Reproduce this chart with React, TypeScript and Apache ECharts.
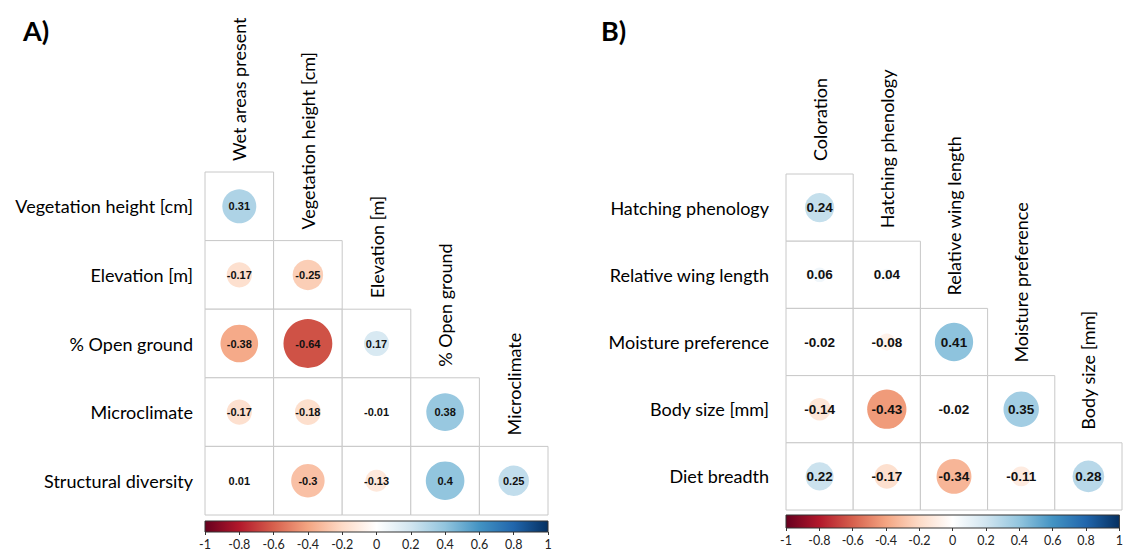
import React, { useEffect, useRef } from "react";
import * as echarts from "echarts";

const colsA = ["Wet areas present", "Vegetation height [cm]", "Elevation [m]", "% Open ground", "Microclimate"];
const rowsA = ["Vegetation height [cm]", "Elevation [m]", "% Open ground", "Microclimate", "Structural diversity"];
const valsA = [
  [0.31],
  [-0.17, -0.25],
  [-0.38, -0.64, 0.17],
  [-0.17, -0.18, -0.01, 0.38],
  [0.01, -0.3, -0.13, 0.4, 0.25],
];

const colsB = ["Coloration", "Hatching phenology", "Relative wing length", "Moisture preference", "Body size [mm]"];
const rowsB = ["Hatching phenology", "Relative wing length", "Moisture preference", "Body size [mm]", "Diet breadth"];
const valsB = [
  [0.24],
  [0.06, 0.04],
  [-0.02, -0.08, 0.41],
  [-0.14, -0.43, -0.02, 0.35],
  [0.22, -0.17, -0.34, -0.11, 0.28],
];

const palette = ["#67001F", "#B2182B", "#D6604D", "#F4A582", "#FDDBC7", "#FFFFFF", "#D1E5F0", "#92C5DE", "#4393C3", "#2166AC", "#053061"];

function hexToRgb(h: string) {
  return [parseInt(h.slice(1, 3), 16), parseInt(h.slice(3, 5), 16), parseInt(h.slice(5, 7), 16)];
}
function colorFor(v: number) {
  const t = ((v + 1) / 2) * (palette.length - 1);
  const i = Math.min(Math.floor(t), palette.length - 2);
  const f = t - i;
  const a = hexToRgb(palette[i]);
  const b = hexToRgb(palette[i + 1]);
  const c = a.map((x, k) => Math.round(x + (b[k] - x) * f));
  return `rgb(${c[0]},${c[1]},${c[2]})`;
}

const LABEL_FONT = "Lato";
const NUM_FONT = "Liberation Sans";
const LABEL_SIZE = 18;

function cellsOf(vals: number[][]) {
  const out: number[][] = [];
  vals.forEach((row, i) => row.forEach((v, j) => out.push([j, i, v])));
  return out;
}

function cellSeries(idx: number, vals: number[][], numSize: number) {
  return {
    type: "custom",
    xAxisIndex: idx,
    yAxisIndex: idx,
    data: cellsOf(vals),
    renderItem: (params: any, api: any) => {
      const p = api.coord([api.value(0), api.value(1)]);
      const s = api.size([1, 1]);
      const v = api.value(2);
      const r = 0.445 * Math.sqrt(Math.abs(v)) * s[0];
      return {
        type: "group",
        children: [
          {
            type: "rect",
            shape: { x: p[0] - s[0] / 2, y: p[1] - s[1] / 2, width: s[0], height: s[1] },
            style: { fill: "#fff", stroke: "#c8c8c8", lineWidth: 1 },
          },
          {
            type: "circle",
            shape: { cx: p[0], cy: p[1], r },
            style: { fill: colorFor(v) },
          },
          {
            type: "text",
            x: p[0],
            y: p[1],
            style: {
              text: String(v),
              fill: "#111",
              font: `bold ${numSize}px "${NUM_FONT}"`,
              align: "center",
              verticalAlign: "middle",
            },
          },
        ],
      };
    },
  };
}

function colLabelSeries(idx: number, cols: string[], fontSize: number, gap: number) {
  return {
    type: "custom",
    xAxisIndex: idx,
    yAxisIndex: idx,
    data: cols.map((c, j) => [j, j]),
    renderItem: (params: any, api: any) => {
      const p = api.coord([api.value(0), api.value(1)]);
      const s = api.size([1, 1]);
      return {
        type: "text",
        x: p[0],
        y: p[1] - s[1] / 2 - gap,
        rotation: Math.PI / 2,
        style: {
          text: cols[params.dataIndex],
          fill: "#000",
          font: `${fontSize}px "${LABEL_FONT}"`,
          align: "left",
          verticalAlign: "middle",
        },
      };
    },
  };
}

function colorbarSeries(idx: number) {
  return {
    type: "custom",
    xAxisIndex: idx,
    yAxisIndex: idx,
    data: [[-1, 0, 1, 1]],
    renderItem: (params: any, api: any) => {
      const a = api.coord([api.value(0), api.value(3)]);
      const b = api.coord([api.value(2), api.value(1)]);
      return {
        type: "rect",
        shape: { x: a[0], y: a[1], width: b[0] - a[0], height: b[1] - a[1] },
        style: {
          fill: new echarts.graphic.LinearGradient(
            0, 0, 1, 0,
            palette.map((c, i) => ({ offset: i / (palette.length - 1), color: c }))
          ),
          stroke: "#333",
          lineWidth: 1,
        },
      };
    },
  };
}

export default function App() {
  const ref = useRef<HTMLDivElement>(null);
  useEffect(() => {
    const chart = echarts.init(ref.current!, null, { renderer: "svg" });
    const rowAxis = (rows: string[], gi: number, margin: number) => ({
      type: "category",
      gridIndex: gi,
      data: rows,
      inverse: true,
      axisLine: { show: false },
      axisTick: { show: false },
      splitLine: { show: false },
      axisLabel: { fontSize: LABEL_SIZE, color: "#000", fontFamily: LABEL_FONT, margin },
    });
    const colAxis = (cols: string[], gi: number) => ({
      type: "category",
      gridIndex: gi,
      data: cols,
      show: false,
    });
    const cbX = (gi: number) => ({
      type: "value",
      gridIndex: gi,
      min: -1,
      max: 1,
      interval: 0.2,
      position: "bottom",
      axisLine: { show: false },
      axisTick: { show: true, length: 3, lineStyle: { color: "#333" } },
      splitLine: { show: false },
      axisLabel: { fontSize: 12.5, color: "#222", fontFamily: LABEL_FONT, margin: 6 },
    });
    const cbY = (gi: number) => ({ type: "value", gridIndex: gi, min: 0, max: 1, show: false });
    chart.setOption({
      animation: false,
      backgroundColor: "#fff",
      title: [
        { text: "A)", left: 18, top: 12, textStyle: { fontSize: 27, fontWeight: "bold", color: "#000", fontFamily: LABEL_FONT } },
        { text: "B)", left: 596, top: 12, textStyle: { fontSize: 27, fontWeight: "bold", color: "#000", fontFamily: LABEL_FONT } },
      ],
      grid: [
        { left: 205, top: 172, width: 343, height: 343 },
        { left: 786, top: 174, width: 336, height: 336 },
        { left: 205, top: 521, width: 343, height: 11 },
        { left: 786, top: 515, width: 336, height: 13 },
      ],
      xAxis: [colAxis(colsA, 0), colAxis(colsB, 1), cbX(2), cbX(3)],
      yAxis: [rowAxis(rowsA, 0, 12), rowAxis(rowsB, 1, 17), cbY(2), cbY(3)],
      series: [
        cellSeries(0, valsA, 11),
        cellSeries(1, valsB, 13.5),
        colLabelSeries(0, colsA, LABEL_SIZE, 11),
        colLabelSeries(1, colsB, LABEL_SIZE, 13),
        colorbarSeries(2),
        colorbarSeries(3),
      ],
    });
    return () => chart.dispose();
  }, []);
  return <div ref={ref} style={{ position: "fixed", left: 0, top: 0, width: 1126, height: 553 }} />;
}
